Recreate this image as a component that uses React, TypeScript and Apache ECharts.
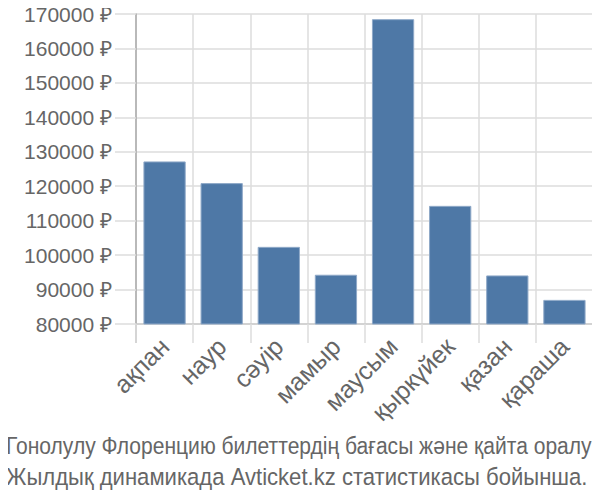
import React, { useEffect, useRef } from "react";
import * as echarts from "echarts";

const months = ["ақпан", "наур", "сәуір", "мамыр", "маусым", "қыркүйек", "қазан", "қараша"];
const prices = [127200, 120900, 102400, 94300, 168500, 114300, 94100, 87000];
const titleLines = [
  "Гонолулу Флоренцию билеттердің бағасы және қайта оралу",
  "Жылдық динамикада Avticket.kz статистикасы бойынша.",
];
// each caption line is squeezed to fill the width
const titleSqueeze = [0.896, 0.94];

const GRID_COLOR = "#dddddd";
const TEXT_COLOR = "#666666";

const App: React.FC = () => {
  const chartRef = useRef<HTMLDivElement>(null);

  useEffect(() => {
    let myChart: echarts.ECharts | null = null;
    if (chartRef.current) {
      myChart = echarts.init(chartRef.current, undefined, { renderer: "svg" });
      myChart.setOption({
        animation: false,
        textStyle: { fontFamily: "Liberation Sans" },
        graphic: [
          ...titleLines.map((line, i) => ({
            type: "text",
            x: 6,
            y: 446 + i * 31,
            scaleX: titleSqueeze[i],
            style: {
              text: line,
              font: "23.5px 'Liberation Sans'",
              fill: TEXT_COLOR,
              textAlign: "left",
              textVerticalAlign: "middle",
            },
          })),
          // y axis line runs on below the plot, through the first tick
          {
            type: "line",
            shape: { x1: 136, y1: 324, x2: 136, y2: 343 },
            style: { stroke: "#aaaaaa", lineWidth: 1.5 },
          },
        ],
        grid: { left: 136, right: 7, top: 14, bottom: 176 },
        xAxis: {
          type: "category",
          data: months,
          axisLine: { show: true, lineStyle: { color: "#cccccc", width: 1.5 } },
          axisTick: {
            show: true,
            length: 19,
            lineStyle: { color: GRID_COLOR, width: 1.5 },
          },
          splitLine: { show: true, lineStyle: { color: GRID_COLOR, width: 1.5 } },
          axisLabel: {
            rotate: 45,
            margin: 18,
            fontSize: 25,
            color: TEXT_COLOR,
            interval: 0,
          },
        },
        yAxis: {
          type: "value",
          min: 80000,
          max: 170000,
          interval: 10000,
          axisLine: { show: true, lineStyle: { color: "#aaaaaa", width: 1.5 } },
          axisTick: {
            show: true,
            length: 21,
            lineStyle: { color: GRID_COLOR, width: 1.5 },
          },
          splitLine: { show: true, lineStyle: { color: GRID_COLOR, width: 1.5 } },
          axisLabel: {
            margin: 24,
            fontSize: 21,
            color: TEXT_COLOR,
            formatter: (v: number) => v + " ₽",
          },
        },
        series: [
          {
            type: "bar",
            data: prices,
            barCategoryGap: "26%",
            itemStyle: {
              color: "#4e78a6",
              borderColor: "#8fa9c8",
              borderWidth: 1,
            },
          },
        ],
      });
    }
    return () => {
      if (myChart !== null) {
        myChart.dispose();
      }
    };
  }, []);

  return <div ref={chartRef} style={{ width: 600, height: 500, margin: -8 }} />;
};

export default App;
